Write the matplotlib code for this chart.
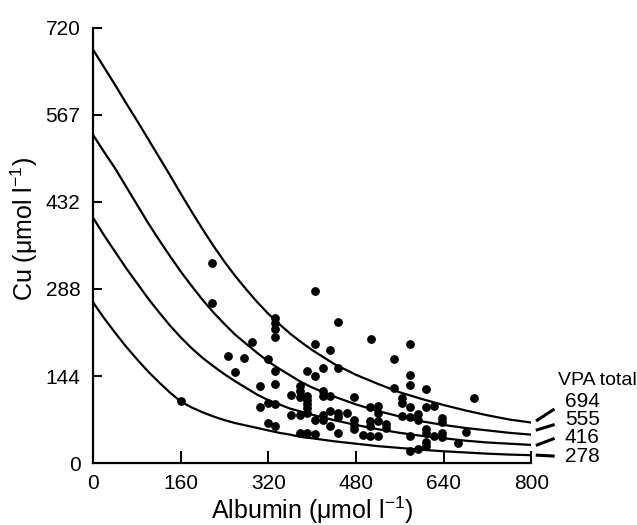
import matplotlib.pyplot as plt

plt.rcParams['font.family'] = ['Liberation Sans', 'DejaVu Sans']
plt.rcParams['mathtext.fontset'] = 'custom'
plt.rcParams['mathtext.rm'] = 'Liberation Sans'
plt.rcParams['mathtext.it'] = 'Liberation Sans:italic'

# Kurven
curve_x = [0, 20, 40, 60, 80, 100, 120, 140, 160, 180, 200, 220, 240, 260, 280, 300,
           320, 340, 360, 380, 400, 440, 480, 520, 560, 600, 640, 680, 720, 760, 800]
vpa_694 = [684, 655, 626, 596, 567, 537, 507, 477, 446, 416, 387, 359, 333, 309, 287, 266,
           247, 230, 214, 200, 187, 164, 146, 131, 117, 106, 96, 87, 79, 72, 67]
vpa_555 = [543, 515, 488, 458, 428, 398, 370, 343, 317, 293, 270, 249, 230, 212, 197, 182,
           168, 156, 145, 134, 125, 110, 97, 86, 77, 69, 63, 58, 54, 50, 47]
vpa_416 = [406, 377, 350, 323, 298, 273, 250, 228, 208, 190, 174, 160, 147, 135, 124, 113,
           104, 97, 90, 85, 80, 71, 63, 56, 50, 45, 41, 37, 34, 32, 30]
vpa_278 = [266, 240, 216, 193, 172, 152, 134, 117, 102, 92, 84, 77, 71, 66, 62, 58,
           54, 50, 47, 43, 41, 36, 32, 28, 25, 22, 19.5, 17.5, 15.5, 14, 13]
vpa_labels = ["694", "555", "416", "278"]

# Messpunkte
albumin = [160, 218, 218, 246, 260, 276, 290, 304, 304, 319, 319, 319,
           333, 333, 333, 333, 333, 333, 333, 333, 361, 361,
           377, 377, 377, 377, 377, 390, 390, 390, 390, 390, 390, 390,
           405, 405, 405, 405, 405, 419, 419, 419, 419, 419,
           433, 433, 433, 433, 447, 447, 447, 447, 447, 463, 477, 477, 477, 477,
           493, 506, 506, 506, 506, 508, 521, 521, 521, 521, 535, 535,
           550, 550, 564, 564, 564, 579, 579, 579, 579, 579, 579, 579,
           593, 593, 593, 608, 608, 608, 608, 608, 608, 622, 622,
           637, 637, 637, 637, 666, 681, 696]
cu = [103, 331, 264, 177, 151, 173, 200, 128, 92, 172, 100, 66,
      240, 231, 222, 209, 153, 131, 98, 61, 113, 80,
      128, 120, 110, 80, 50, 153, 111, 104, 98, 91, 83, 50,
      284, 197, 144, 71, 48, 158, 120, 111, 80, 71,
      187, 111, 86, 61, 234, 158, 83, 76, 50, 82, 110, 71, 63, 56,
      46, 93, 70, 61, 45, 205, 94, 83, 70, 44, 65, 58,
      172, 124, 107, 99, 78, 197, 146, 129, 93, 76, 45, 20,
      81, 71, 24, 122, 93, 56, 49, 34, 28, 94, 45,
      74, 68, 49, 43, 33, 51, 108]

fig = plt.figure(figsize=(6.37, 5.25), dpi=100)
ax = fig.add_axes([0.146, 0.118, 0.688, 0.829])

for ys in [vpa_694, vpa_555, vpa_416, vpa_278]:
    ax.plot(curve_x, ys, color='black', lw=1.6, solid_capstyle='butt')

ax.scatter(albumin, cu, s=28, color='black', zorder=3, clip_on=False)

ax.set_xlim(0, 800)
ax.set_ylim(0, 720)
ax.set_xticks([0, 160, 320, 480, 640, 800])
ax.set_yticks([0, 144, 288, 432, 576, 720])
ax.set_yticklabels(["0", "144", "288", "432", "567", "720"])
ax.spines['top'].set_visible(False)
ax.spines['right'].set_visible(False)
ax.spines['left'].set_linewidth(1.6)
ax.spines['bottom'].set_linewidth(1.6)
ax.tick_params(axis='x', direction='in', length=8.5, width=1.4, labelsize=15, pad=8)
ax.tick_params(axis='y', direction='in', length=6.5, width=1.4, labelsize=15, pad=9)

# Achsenbeschriftungen
fig.text(312 / 637, 1 - 510 / 525, "Albumin (\u03bcmol l$^{-1}$)", fontsize=18,
         ha='center', va='center')
fig.text(24 / 637, 1 - 229 / 525, "Cu (\u03bcmol l$^{-1}$)", fontsize=18,
         ha='center', va='center', rotation=90)

# Beschriftung rechts
ax.text(848, 137, "VPA total", fontsize=14, va='center', ha='left', clip_on=False)
dash_y = [(71, 88), (55, 63), (30, 40), (13, 11.6)]
label_y = [102, 72, 42, 11]
for (y0, y1), ly, lab in zip(dash_y, label_y, vpa_labels):
    ax.plot([811, 840], [y0, y1], color='black', lw=2.2, clip_on=False)
    ax.text(861, ly, lab, fontsize=15, va='center', ha='left', clip_on=False)

fig.savefig("out.png", dpi=100)
